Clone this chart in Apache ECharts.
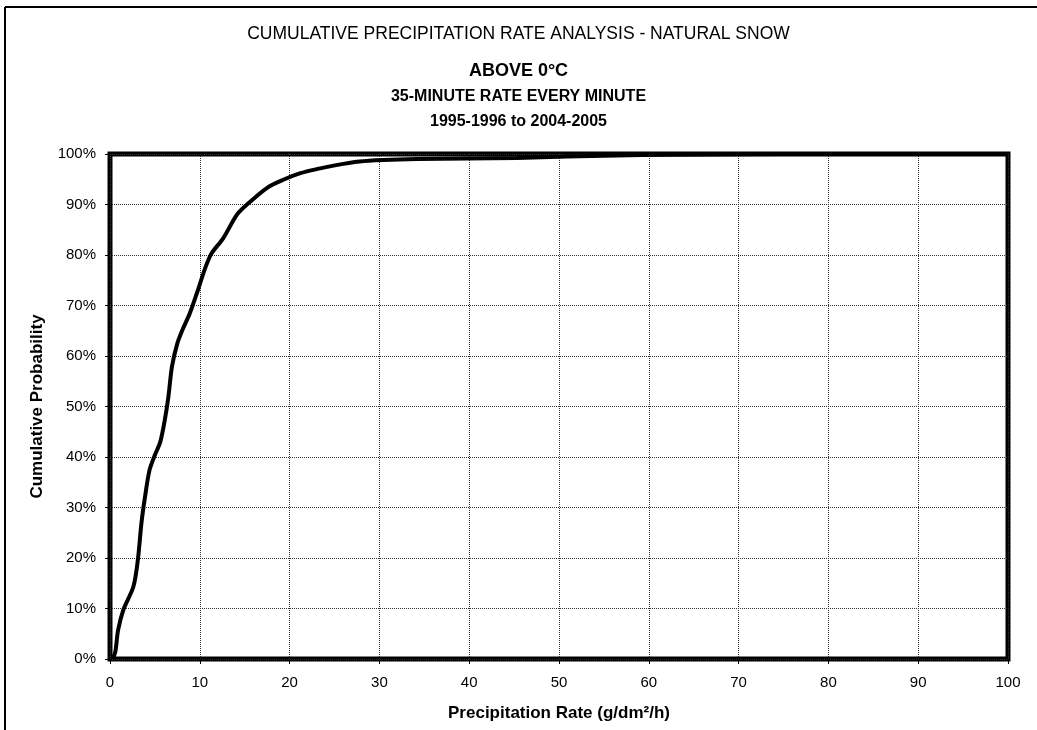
<!DOCTYPE html>
<html>
<head>
<meta charset="utf-8">
<title>Cumulative Precipitation Rate Analysis - Natural Snow</title>
<script src="https://cdn.jsdelivr.net/npm/echarts@6/dist/echarts.min.js"></script>
<style>
  html, body { margin: 0; padding: 0; background: #fff; }
  #chart { width: 1037px; height: 730px; }
</style>
</head>
<body>
<div id="chart"></div>
<script>
// Precipitation rate (g/dm²/h) and cumulative probability (%) along the curve
const rate = [0.3, 0.6, 0.9, 1.5, 2.6, 3.1, 3.5, 3.9, 4.4, 5.0, 5.6, 6.1, 6.5, 6.9, 7.5, 8.1, 8.9,
  9.8, 10.6, 11.3, 12.6, 14.1, 15.2, 17.5, 19.3, 21.2, 23.0, 24.9, 27.8, 30.4, 34.2, 39.7,
  45.3, 50.9, 56.4, 62.0, 70.0, 80.0, 100.0];
const probability = [0, 1.5, 5.7, 9.8, 14.3, 19.6, 26.9, 32.1, 37.4, 40.4, 43.0, 47.3, 51.9,
  57.9, 62.5, 65.3, 68.5, 73.1, 77.4, 80.3, 83.3, 87.9, 89.9, 93.3, 94.9, 96.2, 97.0, 97.7,
  98.5, 98.8, 99.0, 99.1, 99.2, 99.5, 99.7, 99.85, 99.95, 100, 100];

const titleLines = [
  'CUMULATIVE PRECIPITATION RATE ANALYSIS - NATURAL SNOW',
  'ABOVE 0°C',
  '35-MINUTE RATE EVERY MINUTE',
  '1995-1996 to 2004-2005'
];
const xTicks = [0, 10, 20, 30, 40, 50, 60, 70, 80, 90, 100];
const xName = 'Precipitation Rate (g/dm²/h)';
const yName = 'Cumulative Probability';

const FONT = 'Liberation Sans, Arial, sans-serif';

const chart = echarts.init(document.getElementById('chart'), null, { renderer: 'canvas' });

const points = rate.map((r, i) => [r, probability[i]]);

chart.setOption({
  backgroundColor: '#fff',
  animation: false,
  title: [
    { text: titleLines[0], left: 'center', top: 20,
      textStyle: { fontFamily: FONT, fontSize: 17.5, fontWeight: 'normal', color: '#000' } },
    { text: titleLines[1], left: 'center', top: 57,
      textStyle: { fontFamily: FONT, fontSize: 18, fontWeight: 'bold', color: '#000' } },
    { text: titleLines[2], left: 'center', top: 84,
      textStyle: { fontFamily: FONT, fontSize: 16, fontWeight: 'bold', color: '#000' } },
    { text: titleLines[3], left: 'center', top: 109,
      textStyle: { fontFamily: FONT, fontSize: 16, fontWeight: 'bold', color: '#000' } }
  ],
  grid: {
    left: 110, right: 29, top: 154, bottom: 71,
    show: true, borderColor: '#000', borderWidth: 5, backgroundColor: 'transparent'
  },
  xAxis: {
    type: 'value', min: 0, max: 100, interval: 10,
    name: xName, nameLocation: 'middle', nameGap: 46,
    nameTextStyle: { fontFamily: FONT, fontSize: 17, fontWeight: 'bold', color: '#000' },
    axisLine: { show: false },
    axisTick: { show: true, length: 5, lineStyle: { color: '#000', width: 1 } },
    axisLabel: { fontFamily: FONT, fontSize: 15, color: '#000', margin: 16,
      formatter: v => xTicks.includes(v) ? String(v) : '' },
    splitLine: { show: true, lineStyle: { color: '#333', width: 1, type: [1, 1] } }
  },
  yAxis: {
    type: 'value', min: 0, max: 100, interval: 10,
    name: yName, nameLocation: 'middle', nameGap: 64, nameRotate: 90,
    nameTextStyle: { fontFamily: FONT, fontSize: 17, fontWeight: 'bold', color: '#000' },
    axisLine: { show: false },
    axisTick: { show: true, length: 5, lineStyle: { color: '#000', width: 1 } },
    axisLabel: { fontFamily: FONT, fontSize: 15, color: '#000', margin: 14,
      formatter: v => v + '%' },
    splitLine: { show: true, lineStyle: { color: '#333', width: 1, type: [1, 1] } }
  },
  series: [{
    type: 'line',
    data: points,
    smooth: 0.3,
    showSymbol: false,
    symbol: 'none',
    clip: true,
    lineStyle: { color: '#000', width: 4 },
    z: 3
  }],
  graphic: [
    // outer frame: top and left edges
    { type: 'line', shape: { x1: 5, y1: 7, x2: 1037, y2: 7 },
      style: { stroke: '#000', lineWidth: 2 }, silent: true },
    { type: 'line', shape: { x1: 5, y1: 7, x2: 5, y2: 730 },
      style: { stroke: '#000', lineWidth: 2 }, silent: true }
  ]
});
</script>
</body>
</html>
